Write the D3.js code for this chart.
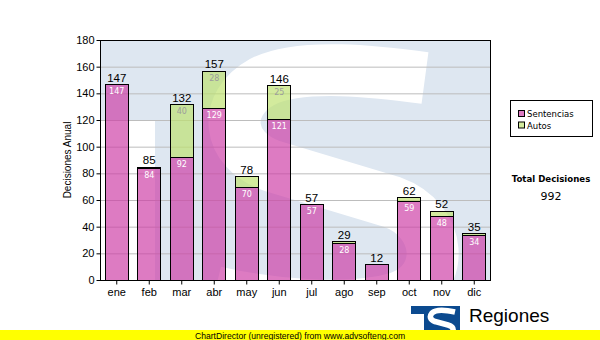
<!DOCTYPE html>
<html>
<head>
<meta charset="utf-8">
<script src="https://cdn.jsdelivr.net/npm/d3@7"></script>
<style>
  html, body { margin: 0; padding: 0; background: #fff; }
  svg { display: block; }
</style>
</head>
<body>
<svg id="chart" width="600" height="340"></svg>
<script>
// Monthly decisions: sentences and rulings ("autos"), stacked per month
const months = ["ene", "feb", "mar", "abr", "may", "jun", "jul", "ago", "sep", "oct", "nov", "dic"];
const sentencias = [147, 84, 92, 129, 70, 121, 57, 28, 12, 59, 48, 34];
const autos = [0, 1, 40, 28, 8, 25, 0, 1, 0, 3, 4, 1];
const yTicks = [0, 20, 40, 60, 80, 100, 120, 140, 160, 180];
const seriesNames = ["Sentencias", "Autos"];

const totals = months.map((m, i) => sentencias[i] + autos[i]);
const grandTotal = d3.sum(totals);

const svg = d3.select("#chart");
const plot = { left: 100, right: 490, top: 40, bottom: 280 };

const x = d3.scaleBand().domain(months).range([plot.left, plot.right])
  .paddingInner(0.28).paddingOuter(0.14);
const y = d3.scaleLinear().domain([0, 180]).range([plot.bottom, plot.top]);

const pinkFill = "rgba(205,60,165,0.68)";
const greenFill = "rgba(190,225,110,0.68)";
const wmBlue = "#dee7f1";

// ---- plot background with the institutional logo mark ----
svg.append("defs").append("clipPath").attr("id", "plotClip")
  .append("rect")
  .attr("x", plot.left).attr("y", plot.top)
  .attr("width", plot.right - plot.left).attr("height", plot.bottom - plot.top);

const wm = svg.append("g").attr("clip-path", "url(#plotClip)");
wm.append("rect")
  .attr("x", plot.left).attr("y", plot.top)
  .attr("width", plot.right - plot.left).attr("height", plot.bottom - plot.top)
  .attr("fill", wmBlue);
// left notch of the "T"
wm.append("rect")
  .attr("x", plot.left).attr("y", 120)
  .attr("width", 55).attr("height", 170)
  .attr("fill", "#fff");
// the "S"
wm.append("path")
  .attr("d", "M 425 78 C 380 72, 300 62, 262 82 C 222 104, 226 150, 272 166 L 392 202 C 442 220, 448 280, 398 298 C 350 312, 270 305, 215 292")
  .attr("fill", "none").attr("stroke", "#fff").attr("stroke-width", 52);

// ---- grid ----
svg.append("g").selectAll("line").data(yTicks.filter(t => t > 0 && t < 180)).join("line")
  .attr("x1", plot.left).attr("x2", plot.right)
  .attr("y1", d => y(d) + 0.5).attr("y2", d => y(d) + 0.5)
  .attr("stroke", "#bdbdbd").attr("stroke-width", 1);

// ---- stacked bars ----
const stack = d3.stack().keys(seriesNames)
  .value((d, k) => d[k]);
const rows = months.map((m, i) => ({ month: m, Sentencias: sentencias[i], Autos: autos[i] }));
const layers = stack(rows);
const fills = { Sentencias: pinkFill, Autos: greenFill };
const labelColors = { Sentencias: "#fff", Autos: "#9c9c9c" };

layers.forEach(layer => {
  const g = svg.append("g");
  g.selectAll("rect").data(layer.filter(d => d[1] - d[0] > 0)).join("rect")
    .attr("x", d => Math.round(x(d.data.month)) + 0.5)
    .attr("y", d => Math.round(y(d[1])) + 0.5)
    .attr("width", Math.round(x.bandwidth()))
    .attr("height", d => Math.round(y(d[0])) - Math.round(y(d[1])))
    .attr("fill", fills[layer.key])
    .attr("stroke", "#000").attr("stroke-width", 1);
  // segment value labels, only where the segment is tall enough
  g.selectAll("text").data(layer.filter(d => y(d[0]) - y(d[1]) > 18)).join("text")
    .attr("x", d => x(d.data.month) + x.bandwidth() / 2 + 0.5)
    .attr("y", d => y(d[1]) + 10)
    .attr("text-anchor", "middle")
    .attr("font-family", "DejaVu Sans, Verdana, sans-serif")
    .attr("font-size", "8px")
    .attr("fill", labelColors[layer.key])
    .text(d => d[1] - d[0]);
});

// totals above each bar
svg.append("g").selectAll("text").data(months).join("text")
  .attr("x", (d) => x(d) + x.bandwidth() / 2 + 0.5)
  .attr("y", (d, i) => y(totals[i]) - 2.5)
  .attr("text-anchor", "middle")
  .attr("font-family", "Liberation Sans, Arial, sans-serif")
  .attr("font-size", "11.5px")
  .attr("fill", "#000")
  .text((d, i) => totals[i]);

// ---- plot border ----
svg.append("rect")
  .attr("x", plot.left + 0.5).attr("y", plot.top + 0.5)
  .attr("width", plot.right - plot.left).attr("height", plot.bottom - plot.top)
  .attr("fill", "none").attr("stroke", "#000").attr("stroke-width", 1);

// ---- axes ----
const yAxis = d3.axisLeft(y).tickValues(yTicks).tickSize(4).tickPadding(2);
const gy = svg.append("g").attr("transform", `translate(${plot.left + 0.5},0)`).call(yAxis);
gy.select(".domain").remove();
gy.selectAll("line").attr("stroke", "#000");
gy.selectAll("text").attr("font-family", "Liberation Sans, Arial, sans-serif")
  .attr("font-size", "11px").attr("fill", "#000");

const xAxis = d3.axisBottom(x).tickSize(4).tickPadding(4);
const gx = svg.append("g").attr("transform", `translate(0.5,${plot.bottom + 0.5})`).call(xAxis);
gx.select(".domain").remove();
gx.selectAll("line").attr("stroke", "#000");
gx.selectAll("text").attr("font-family", "Liberation Sans, Arial, sans-serif")
  .attr("font-size", "11px").attr("fill", "#000");

svg.append("text")
  .attr("transform", "translate(71,160) rotate(-90)")
  .attr("text-anchor", "middle")
  .attr("font-family", "Liberation Sans, Arial, sans-serif")
  .attr("font-size", "10px")
  .attr("fill", "#000")
  .text("Decisiones Anual");

// ---- legend ----
const legend = svg.append("g");
legend.append("rect")
  .attr("x", 510.5).attr("y", 100.5).attr("width", 82).attr("height", 36)
  .attr("fill", "#fff").attr("stroke", "#000");
seriesNames.forEach((name, i) => {
  const ly = 111 + i * 11.5;
  legend.append("rect")
    .attr("x", 518.5).attr("y", ly - 0.5).attr("width", 6).attr("height", 6)
    .attr("fill", fills[name]).attr("stroke", "#000");
  legend.append("text")
    .attr("x", 527).attr("y", ly + 6)
    .attr("font-family", "DejaVu Sans, Verdana, sans-serif")
    .attr("font-size", "8.5px").attr("fill", "#000")
    .text(name);
});

svg.append("text")
  .attr("x", 551).attr("y", 181.5).attr("text-anchor", "middle")
  .attr("font-family", "DejaVu Sans, Verdana, sans-serif")
  .attr("font-weight", "bold").attr("font-size", "8.6px").attr("fill", "#000")
  .text("Total Decisiones");
svg.append("text")
  .attr("x", 551).attr("y", 200).attr("text-anchor", "middle")
  .attr("font-family", "DejaVu Sans, Verdana, sans-serif")
  .attr("font-size", "11px").attr("fill", "#000")
  .text(grandTotal);

// ---- footer logo ----
const logo = svg.append("g");
logo.append("rect").attr("x", 411).attr("y", 306).attr("width", 49).attr("height", 34).attr("fill", "#0b4a8f");
logo.append("rect").attr("x", 411).attr("y", 314).attr("width", 13).attr("height", 26).attr("fill", "#fff");
logo.append("path")
  .attr("d", "M 455 312 C 446 310, 436 309, 432 313 C 428 318, 432 321, 437 322 L 448 325 C 455 327, 455 333, 448 335 C 442 337, 434 336, 428 334")
  .attr("fill", "none").attr("stroke", "#fff").attr("stroke-width", 5.5);
svg.append("text")
  .attr("x", 469).attr("y", 322)
  .attr("font-family", "Liberation Sans, Arial, sans-serif")
  .attr("font-size", "19px").attr("fill", "#000")
  .text("Regiones");
svg.append("text")
  .attr("x", 467).attr("y", 337.5)
  .attr("font-family", "Liberation Sans, Arial, sans-serif")
  .attr("font-size", "9.5px").attr("fill", "#000")
  .text("Tribunal Supremo de Justicia");

// ---- footer banner ----
svg.append("rect").attr("x", 0).attr("y", 330).attr("width", 600).attr("height", 10).attr("fill", "#ffff00");
svg.append("text")
  .attr("x", 300).attr("y", 338.5).attr("text-anchor", "middle")
  .attr("font-family", "Liberation Sans, Arial, sans-serif")
  .attr("font-size", "8.6px").attr("fill", "#000")
  .text("ChartDirector (unregistered) from www.advsofteng.com");
</script>
</body>
</html>
